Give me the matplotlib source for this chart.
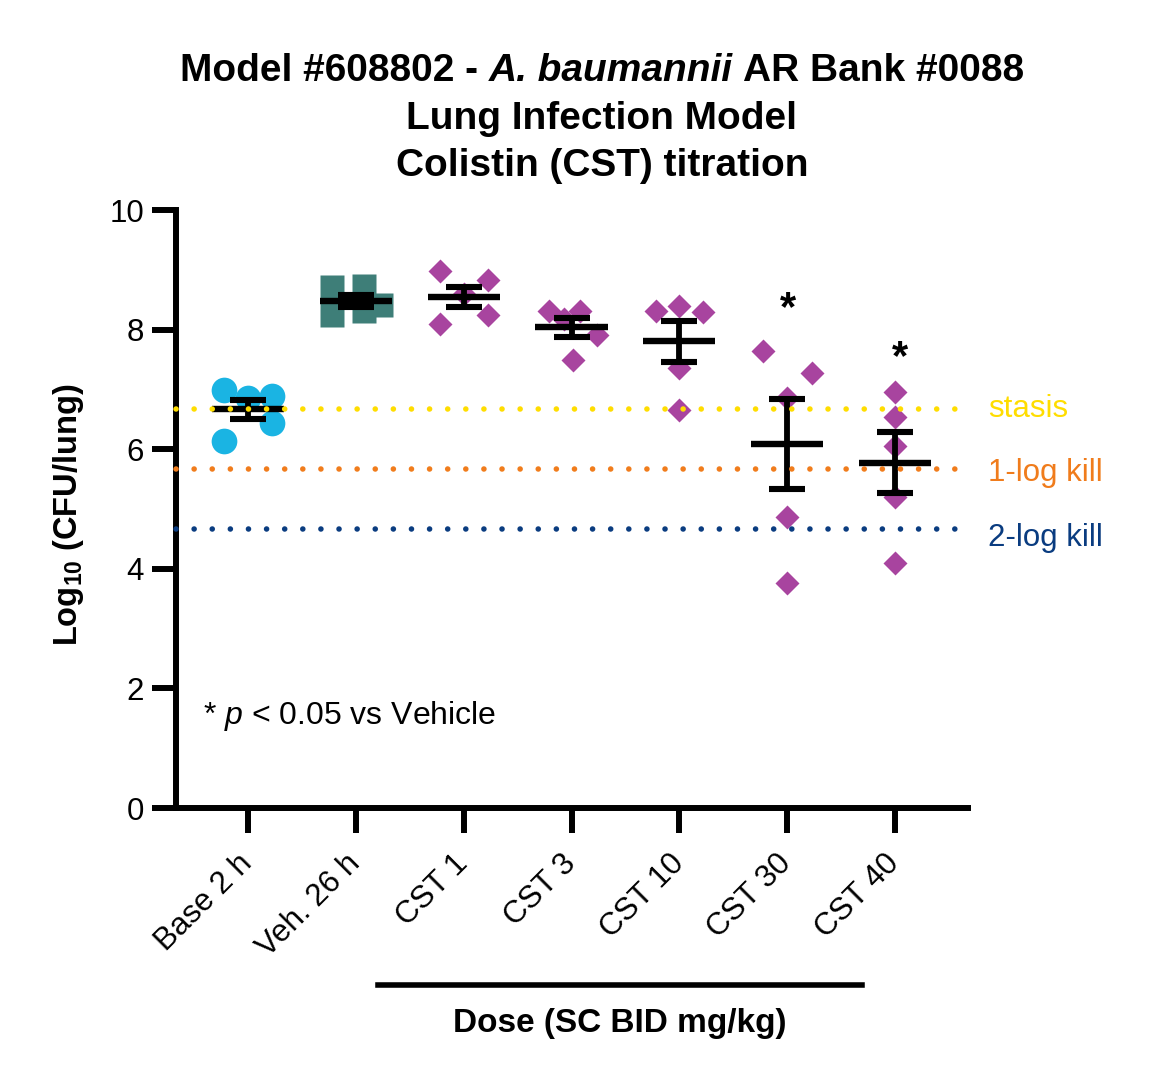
import numpy as np
import matplotlib
matplotlib.use("Agg")
import matplotlib.pyplot as plt
from matplotlib.lines import Line2D
from matplotlib.transforms import ScaledTranslation

plt.rcParams["font.family"] = ["Liberation Sans", "DejaVu Sans"]
plt.rcParams["mathtext.fontset"] = "custom"
plt.rcParams["mathtext.rm"] = "Liberation Sans"
plt.rcParams["mathtext.it"] = "Liberation Sans:italic"
plt.rcParams["mathtext.bf"] = "Liberation Sans:bold"

# data, log10 CFU per lung
groups = ["Base 2 h", "Veh. 26 h", "CST 1", "CST 3", "CST 10", "CST 30", "CST 40"]
base_2h = [6.99, 6.86, 6.89, 6.44, 6.14]
veh_26h = [8.71, 8.24, 8.73, 8.31, 8.41]
cst_1 = [8.98, 8.83, 8.09, 8.24, 8.60]
cst_3 = [8.31, 8.31, 8.18, 7.91, 7.49]
cst_10 = [8.31, 8.39, 8.29, 7.36, 6.66]
cst_30 = [7.64, 7.27, 6.86, 4.87, 3.76]
cst_40 = [6.96, 6.54, 6.05, 5.20, 4.10]
significant = [False, False, False, False, False, True, True]
ref_labels = ["stasis", "1-log kill", "2-log kill"]
ref_drops = [0, 1, 2]

values = [base_2h, veh_26h, cst_1, cst_3, cst_10, cst_30, cst_40]

# layout / style
spread = [[-0.22, 0.0, 0.22, 0.22, -0.22],
          [-0.22, -0.22, 0.08, 0.08, 0.23],
          [-0.22, 0.23, -0.22, 0.23, 0.0],
          [-0.21, 0.08, -0.07, 0.24, 0.01],
          [-0.22, 0.0, 0.22, 0.0, 0.0],
          [-0.22, 0.23, 0.0, 0.0, 0.0],
          [0.0, 0.0, 0.0, 0.0, 0.0]]
star_gap = [0, 0, 0, 0, 0, 0.70, 0.56]
star_dx = [0, 0, 0, 0, 0, 0.01, 0.05]
markers = ["o", "s", "D", "D", "D", "D", "D"]
msizes = [18.5, 17.5, 12.5, 12.5, 12.5, 12.5, 12.5]
colors = ["#1AB4E3", "#3E7E78", "#A8449F", "#A8449F", "#A8449F", "#A8449F", "#A8449F"]
ref_colors = ["#FFDD00", "#F07C1C", "#0A3C80"]
ref_text_dy = [0.0, -0.07, -0.15]
axis_lw = 4.3
W, H = 1155, 1085

fig = plt.figure(figsize=(W / 100, H / 100), dpi=100)
ax = fig.add_axes([176 / W, 1 - 808 / H, (968 - 176) / W, 598 / H])

x = np.arange(len(groups))
for i, vals in enumerate(values):
    vals = np.asarray(vals)
    ax.plot(x[i] + np.asarray(spread[i]), vals, linestyle="none", marker=markers[i],
            ms=msizes[i], mfc=colors[i], mec="none", zorder=2, clip_on=False)
    mean = vals.mean()
    sem = vals.std(ddof=1) / np.sqrt(len(vals))
    ax.errorbar(x[i], mean, yerr=sem, fmt="none", ecolor="black", elinewidth=4.2,
                capsize=13, capthick=4.4, zorder=3)
    ax.hlines(mean, x[i] - 0.335, x[i] + 0.335, color="black", lw=4.6, zorder=3)
    if significant[i]:
        ax.text(x[i] + star_dx[i], vals.max() + star_gap[i], "*", ha="center",
                va="center", fontsize=30, fontweight="bold", zorder=4)

stasis = np.mean(base_2h)
for lab, drop, col, dy in zip(ref_labels, ref_drops, ref_colors, ref_text_dy):
    yv = stasis - drop
    ax.plot([-0.668, 6.677], [yv, yv], color=col, lw=4.0, linestyle=(0, (0.01, 3.25)),
            dash_capstyle="round", zorder=5, clip_on=False)
    ax.text(6.86, yv + dy, lab, color=col, fontsize=22.5, ha="left", va="center",
            clip_on=False)

ax.set_xlim(-0.668, 6.677)
ax.set_ylim(0, 10)
ax.set_yticks([0, 2, 4, 6, 8, 10])
ax.set_xticks(x)
ax.set_xticklabels(groups, rotation=45, ha="right", va="center", rotation_mode="anchor",
                   fontsize=22.5)
shift = ScaledTranslation(9 / 100, 0, fig.dpi_scale_trans)
for lbl in ax.get_xticklabels():
    lbl.set_transform(lbl.get_transform() + shift)
ax.tick_params(axis="y", labelsize=22.5, length=17, width=axis_lw, pad=6)
ax.tick_params(axis="x", length=18, width=axis_lw, pad=19)
for s in ["top", "right"]:
    ax.spines[s].set_visible(False)
for s in ["left", "bottom"]:
    ax.spines[s].set_linewidth(axis_lw)

ax.set_ylabel(r"Log$_{\mathbf{10}}$ (CFU/lung)", fontsize=23.5, fontweight="bold")
ax.yaxis.set_label_coords(-0.114, 0.49)

ax.text(-0.42, 1.54, r"* $\mathit{p}$ < 0.05 vs Vehicle", fontsize=23, ha="left",
        va="center")

# dose bracket under the CST groups
trans = ax.get_xaxis_transform()
ax.add_line(Line2D([1.206, 5.696], [-0.296, -0.296], transform=trans, color="black",
                   lw=4.0, clip_on=False))
ax.text(3.45, -0.361, "Dose (SC BID mg/kg)", transform=trans, ha="center", va="center",
        fontsize=24, fontweight="bold")

# title: first line is pieced together so the species name can be italic
title_kw = dict(fontsize=28, fontweight="bold", va="center")
renderer = fig.canvas.get_renderer()


def text_width(s, style="normal"):
    t = fig.text(0, 0, s, fontstyle=style, **title_kw)
    w = t.get_window_extent(renderer).width
    t.remove()
    return w


space = text_width("M M") - text_width("MM")
pieces = [("Model #608802 -", "normal"), ("A. baumannii", "italic"),
          ("AR Bank #0088", "normal")]
widths = [text_width(p, st) for p, st in pieces]
xpx = 602 - (sum(widths) + space * (len(pieces) - 1)) / 2
for (p, st), w in zip(pieces, widths):
    fig.text(xpx / W, 1 - 71 / H, p, fontstyle=st, ha="left", **title_kw)
    xpx += w + space
for line, ypx in zip(["Lung Infection Model", "Colistin (CST) titration"], [119, 166]):
    fig.text(602 / W, 1 - ypx / H, line, ha="center", **title_kw)

fig.savefig("out.png", dpi=100)
